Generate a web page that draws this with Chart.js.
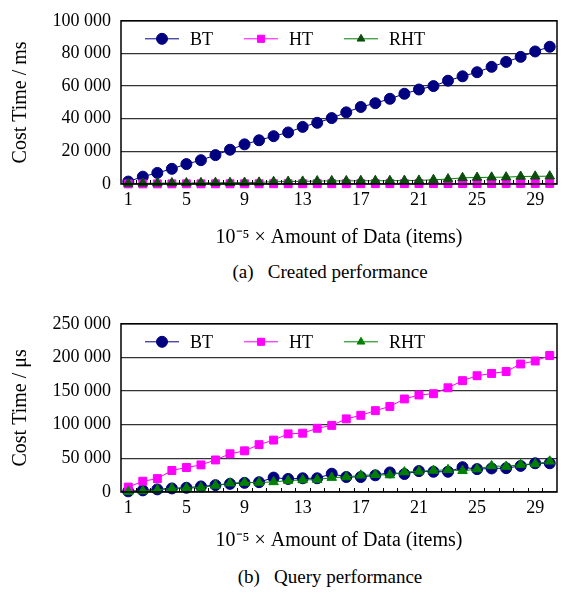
<!DOCTYPE html>
<html>
<head>
<meta charset="utf-8">
<script src="https://cdn.jsdelivr.net/npm/chart.js@4.4.1/dist/chart.umd.min.js"></script>
<style>
  body { margin: 0; background: #fff; width: 569px; height: 594px; position: relative; overflow: hidden; }
  .box { position: absolute; left: 0; width: 569px; }
  .caption { position: absolute; left: 0; width: 660px; text-align: center; white-space: pre;
             font-family: "Liberation Serif", serif; font-size: 19px; color: #000; }
</style>
</head>
<body>
<div class="box" style="top:0; height:258px;"><canvas id="chart-created"></canvas></div>
<div class="caption" style="top:261px;">(a)   Created performance</div>
<div class="box" style="top:303px; height:258px;"><canvas id="chart-query"></canvas></div>
<div class="caption" style="top:566px;">(b)   Query performance</div>
<script>
// x categories (10^-5 x amount of data)
const categories = [1, 2, 3, 4, 5, 6, 7, 8, 9, 10, 11, 12, 13, 14, 15, 16, 17, 18, 19, 20,
                    21, 22, 23, 24, 25, 26, 27, 28, 29, 30];

// (a) created performance, ms
const createdBT = [1500, 4500, 6800, 9300, 12200, 14600, 17700, 21000, 24300, 26800, 29300, 31600, 35000, 37500, 40400,
                   43900, 47200, 49500, 52200, 55300, 57900, 60000, 63300, 66000, 68500, 71800, 74800, 77900, 81200, 84100];
const createdHT = [50, 60, 80, 90, 100, 110, 120, 130, 140, 150, 160, 170, 180, 190, 200,
                   210, 220, 230, 240, 250, 260, 270, 280, 290, 300, 310, 320, 330, 340, 350];
const createdRHT = [300, 400, 500, 600, 600, 700, 800, 800, 900, 1000, 1400, 1500, 1600, 1800, 1900,
                    1900, 2000, 2000, 2000, 2100, 2200, 2600, 3000, 3800, 4000, 4100, 4200, 4600, 4700, 4800];

// (b) query performance, us
const queryBT = [1000, 2400, 3900, 5300, 6300, 8300, 10200, 12100, 13600, 14600, 21400, 19400, 20400, 20400, 27200,
                 22300, 22300, 24800, 29100, 26700, 31100, 30100, 30100, 36900, 34000, 35000, 35400, 38800, 42700, 42700];
const queryHT = [7300, 16000, 19900, 32000, 36400, 40300, 47600, 56800, 61200, 70400, 77200, 86400, 87400, 94700, 99000,
                 108700, 114000, 120900, 127200, 138300, 144200, 146100, 154900, 165500, 172800, 176200, 179100, 190300, 194700, 202900];
const queryRHT = [500, 1500, 3000, 5300, 5800, 6800, 9700, 13100, 14100, 14100, 15000, 17000, 18000, 18400, 21400,
                  22300, 24800, 25700, 25200, 29600, 30600, 32000, 33000, 31500, 34000, 38800, 37900, 40800, 41700, 45600];

const createdTicks = [0, 20000, 40000, 60000, 80000, 100000];
const queryTicks = [0, 50000, 100000, 150000, 200000, 250000];

const FONT = '"Liberation Serif", "Times New Roman", serif';
const NAVY = '#000080';
const PINK = '#ff00ff';
const GREEN = '#008000';

function spaced(v) {
    return String(v).replace(/\B(?=(\d{3})+(?!\d))/g, ' ');
}

// frame round the plot, small inward ticks on the x axis, legend inside the plot
const framePlugin = {
    id: 'frame',
    afterDatasetsDraw(chart) {
        const a = chart.chartArea;
        const ctx = chart.ctx;
        ctx.save();
        ctx.strokeStyle = '#000';
        ctx.lineWidth = 1;
        const n = categories.length;
        const step = (a.right - a.left) / n;
        ctx.beginPath();
        for (let i = 1; i < n; i++) {
            const x = Math.round(a.left + i * step) + 0.5;
            ctx.moveTo(x, a.bottom);
            ctx.lineTo(x, a.bottom - 4);
        }
        ctx.stroke();
        ctx.lineWidth = 1.5;
        ctx.strokeRect(a.left, a.top, a.right - a.left, a.bottom - a.top);

        // legend
        const offs = [24, 123, 223];
        ctx.font = '18px ' + FONT;
        ctx.textBaseline = 'middle';
        const y = a.top + 18;
        chart.data.datasets.forEach((ds, i) => {
            const x0 = a.left + offs[i];
            ctx.strokeStyle = ds.borderColor;
            ctx.lineWidth = 1;
            ctx.beginPath();
            ctx.moveTo(x0, y);
            ctx.lineTo(x0 + 34, y);
            ctx.stroke();
            ctx.fillStyle = ds.pointBackgroundColor;
            ctx.strokeStyle = ds.pointBorderColor;
            Chart.helpers.drawPoint(ctx, { pointStyle: ds.pointStyle, rotation: 0, borderWidth: 1,
                radius: ds.legendRadius }, x0 + 17, y);
            ctx.fillStyle = '#000';
            ctx.fillText(ds.label, x0 + 45, y + 1);
        });
        ctx.restore();
    }
};

function makeChart(id, bt, ht, rht, ticks, yTitle, topPad, xHeight, rhtPoint) {
    const yMax = ticks[ticks.length - 1];
    return new Chart(document.getElementById(id), {
        type: 'line',
        data: {
            labels: categories,
            datasets: [
                { label: 'BT', data: bt, borderColor: NAVY, borderWidth: 1, pointStyle: 'circle',
                  pointRadius: 5.5, legendRadius: 5.5, pointBackgroundColor: NAVY, pointBorderColor: NAVY, order: 2 },
                { label: 'HT', data: ht, borderColor: PINK, borderWidth: 1, pointStyle: 'rect',
                  pointRadius: 5.6, legendRadius: 5, pointBackgroundColor: PINK, pointBorderColor: PINK, order: 1 },
                { label: 'RHT', data: rht, borderColor: GREEN, borderWidth: 1, pointStyle: 'triangle',
                  pointRadius: 5.5, legendRadius: 4.5, pointBackgroundColor: rhtPoint, pointBorderColor: rhtPoint, order: 0 }
            ]
        },
        options: {
            responsive: true,
            maintainAspectRatio: false,
            animation: false,
            clip: false,
            layout: { padding: { top: topPad, right: 12, left: 0, bottom: 0 } },
            plugins: { legend: { display: false }, tooltip: { enabled: false } },
            scales: {
                x: {
                    type: 'category',
                    offset: true,
                    grid: { display: false, drawTicks: false },
                    border: { display: false },
                    afterFit: (s) => { s.height = xHeight; },
                    ticks: {
                        autoSkip: false, maxRotation: 0, padding: 5, color: '#000',
                        font: { family: FONT, size: 18 },
                        callback: (v, i) => (i % 4 === 0 ? categories[i] : '')
                    },
                    title: {
                        display: true, text: '10\u207B\u2075 \u00D7 Amount of Data (items)', color: '#000',
                        font: { family: FONT, size: 20 }, padding: { top: 0, bottom: 8 }
                    }
                },
                y: {
                    min: 0, max: yMax,
                    afterFit: (s) => { s.width = 121; },
                    afterBuildTicks: (s) => { s.ticks = ticks.map(v => ({ value: v })); },
                    grid: { color: '#333', lineWidth: 1.2, drawTicks: false },
                    border: { display: false },
                    ticks: {
                        padding: 10, color: '#000', font: { family: FONT, size: 18 },
                        callback: (v) => spaced(v)
                    },
                    title: {
                        display: true, text: yTitle, color: '#000',
                        font: { family: FONT, size: 20 }, padding: { top: 9, bottom: 0 }
                    }
                }
            }
        },
        plugins: [framePlugin]
    });
}

makeChart('chart-created', createdBT, createdHT, createdRHT, createdTicks, 'Cost Time / ms', 13, 74, '#0b4d0b');
makeChart('chart-query', queryBT, queryHT, queryRHT, queryTicks, 'Cost Time / \u03BCs', 19, 69, GREEN);
</script>
</body>
</html>
